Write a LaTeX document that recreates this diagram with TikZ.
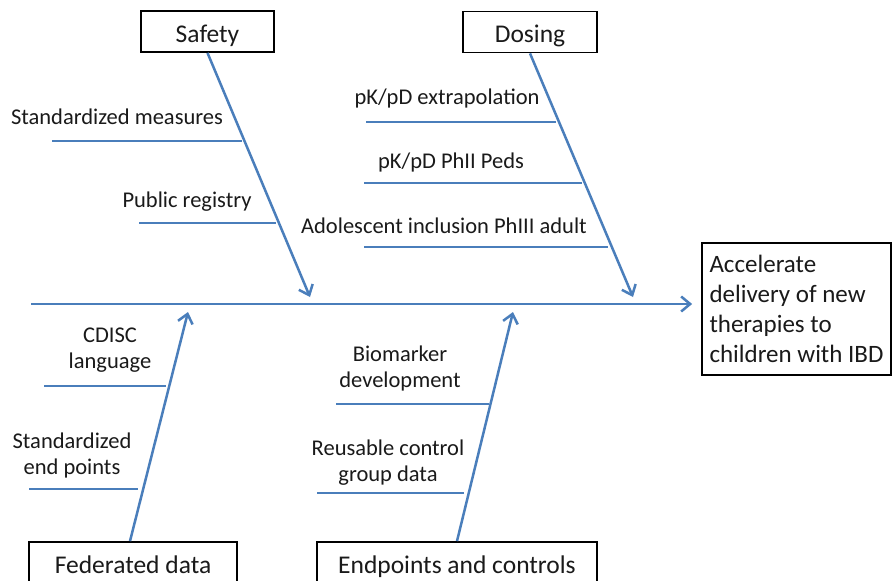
\documentclass[tikz,border=0pt]{standalone}
\usepackage{fontspec}
\setmainfont{Carlito}
\usetikzlibrary{arrows.meta}
\definecolor{bone}{HTML}{4A7EBB}
\definecolor{ink}{HTML}{1A1A1A}
\begin{document}
\begin{tikzpicture}[x=1pt,y=-1pt,
  bonel/.style={draw=bone,line width=2.5pt},
  arr/.style={bonel,-{Straight Barb[length=9pt,width=15pt,line width=2.5pt]}},
  cat/.style={draw=black,line width=1.8pt,text=ink,font=\fontsize{25.5}{30}\selectfont,inner sep=0pt,text height=21pt,text depth=0pt},
  lbl/.style={text=ink,font=\fontsize{22.5}{26}\selectfont,align=center,inner sep=0pt}]
\path[use as bounding box,clip] (0,0) rectangle (892,581);
\fill[white] (0,0) rectangle (892,581);
% category boxes
\node[cat,minimum width=133pt,minimum height=41pt] (safety) at (207.5,31.5) {Safety};
\node[cat,minimum width=134pt,minimum height=41pt] (dosing) at (530,32) {Dosing};
\node[cat,minimum width=208pt,minimum height=42pt] (fed) at (133,563) {Federated data};
\node[cat,minimum width=280pt,minimum height=42pt] (endp) at (457,563) {Endpoints and controls};
\node[draw=black,line width=1.8pt,text=ink,inner sep=0pt,minimum width=189pt,minimum height=132pt,align=left,font=\fontsize{25}{30}\selectfont] (goal) at (796.5,309)
  {Accelerate\\delivery of new\\therapies to\\children with IBD};
% spine
\coordinate (spineL) at (31,304);
\draw[arr,shorten >=9pt] (spineL) -- (spineL -| goal.west);
% bone tips
\coordinate (safetytip) at (310,297);
\coordinate (dosingtip) at (633,297);
\coordinate (fedtip) at (188,312);
\coordinate (endptip) at (513,312);
\coordinate (fedbase) at ([xshift=-3pt]fed.north);
\draw[arr] (safety.south) -- (safetytip);
\draw[arr] (dosing.south) -- (dosingtip);
\draw[arr] (fedbase) -- (fedtip);
\draw[arr] (endp.north) -- (endptip);
% safety ribs
\coordinate (sm1) at (52,141);   \coordinate (sm2) at (242,141);
\coordinate (pr1) at (139,223);  \coordinate (pr2) at (276,223);
\draw[bonel] (sm1) -- (sm2);
\draw[bonel] (pr1) -- (pr2);
\node[lbl] (smt) at (117,117) {Standardized measures};
\node[lbl] (prt) at (187,202) {Public registry};
% dosing ribs
\coordinate (pe1) at (366,122);  \coordinate (pe2) at (556,122);
\coordinate (pp1) at (364,183);  \coordinate (pp2) at (582,183);
\coordinate (ai1) at (364,247);  \coordinate (ai2) at (608,247);
\draw[bonel] (pe1) -- (pe2);
\draw[bonel] (pp1) -- (pp2);
\draw[bonel] (ai1) -- (ai2);
\node[lbl] (pet) at (447,98) {pK/pD extrapolation};
\node[lbl] (ppt) at (451,162) {pK/pD PhII Peds};
\node[lbl] (ait) at (444,226) {Adolescent inclusion PhIII adult};
% federated ribs
\coordinate (cd1) at (44,386);   \coordinate (cd2) at (166,386);
\coordinate (se1) at (29,489);   \coordinate (se2) at (138,489);
\draw[bonel] (cd1) -- (cd2);
\draw[bonel] (se1) -- (se2);
\node[lbl] (cdt) at (110,350) {CDISC\\language};
\node[lbl] (set) at (72,455) {Standardized\\end points};
% endpoints ribs
\coordinate (bm1) at (336,404);  \coordinate (bm2) at (489,404);
\coordinate (rc1) at (317,493);  \coordinate (rc2) at (464,493);
\draw[bonel] (bm1) -- (bm2);
\draw[bonel] (rc1) -- (rc2);
\node[lbl] (bmt) at (400,368) {Biomarker\\development};
\node[lbl] (rct) at (388,463) {Reusable control\\group data};
\end{tikzpicture}
\end{document}
